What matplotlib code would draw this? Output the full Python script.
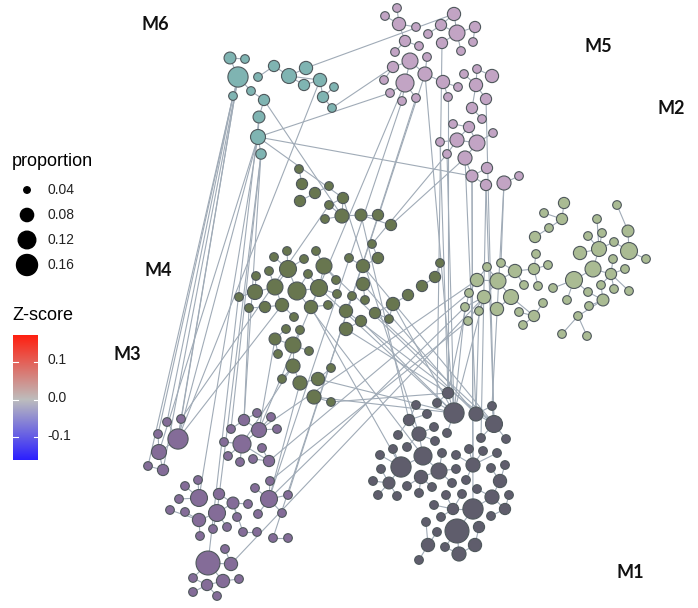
import numpy as np
import matplotlib
matplotlib.use("Agg")
import matplotlib.pyplot as plt
from matplotlib.collections import LineCollection
from matplotlib.colors import LinearSegmentedColormap

# node tables: (x, y, proportion) in layout units
m6 = [(238, 77, .15), (230, 58, .07), (245, 59, .05), (258, 77, .05), (251, 91, .05), (233, 96, .05),
      (274, 66, .065), (289, 76, .095), (306, 68, .08), (304, 85, .065), (320, 80, .08), (334, 87, .05),
      (323, 97, .065), (332, 108, .05), (264, 100, .065), (259, 117, .07), (258, 137, .095), (261, 154, .06)]

m5 = [(397, 8, .05), (385, 16, .05), (399, 24, .08), (416, 27, .05), (428, 34, .05), (454, 14, .08),
      (441, 25, .065), (457, 33, .104), (475, 27, .065), (473, 42, .05), (461, 51, .05), (442, 43, .065),
      (405, 41, .065), (419, 46, .05), (395, 52, .05), (410, 61, .104), (427, 57, .05), (393, 67, .065),
      (384, 80, .05), (405, 83, .125), (425, 74, .087), (390, 93, .05), (402, 101, .05), (416, 98, .05),
      (443, 82, .08), (458, 87, .05), (448, 97, .05), (464, 74, .05), (477, 69, .05), (492, 76, .08),
      (476, 85, .08), (486, 99, .065), (472, 108, .065), (482, 119, .05), (469, 127, .065), (453, 124, .05),
      (493, 133, .05), (457, 140, .087), (477, 143, .104), (440, 142, .05), (447, 154, .05), (465, 158, .087),
      (487, 168, .065), (472, 176, .07), (486, 185, .065), (504, 183, .087), (519, 176, .05)]

m2 = [(564, 203, .065), (544, 213, .05), (562, 219, .065), (549, 228, .05), (535, 237, .065), (536, 254, .05),
      (501, 263, .05), (487, 267, .05), (515, 271, .08), (534, 269, .065), (477, 280, .08), (498, 281, .104),
      (524, 285, .05), (538, 286, .05), (553, 288, .05), (469, 293, .05), (484, 297, .08), (511, 297, .095),
      (465, 307, .05), (479, 311, .05), (497, 309, .08), (543, 303, .05), (519, 312, .05), (534, 316, .065),
      (523, 325, .05), (468, 321, .05), (548, 265, .05), (574, 280, .114), (567, 300, .05), (578, 316, .05),
      (562, 334, .05), (587, 336, .05), (617, 205, .05), (597, 219, .05), (628, 231, .07), (588, 236, .05),
      (602, 233, .05), (580, 253, .08), (599, 249, .095), (614, 242, .05), (629, 251, .114), (646, 259, .05),
      (613, 259, .05), (593, 269, .104), (625, 269, .05), (611, 274, .065), (601, 285, .05), (588, 292, .05),
      (614, 289, .05), (629, 291, .05), (603, 300, .07), (589, 306, .05)]

m4 = [(299, 169, .05), (302, 184, .065), (300, 201, .065), (315, 193, .065), (329, 186, .05), (343, 198, .065),
      (329, 205, .05), (325, 219, .05), (342, 216, .087), (361, 215, .07), (378, 215, .065), (391, 225, .065),
      (372, 244, .05), (378, 258, .065), (349, 258, .05), (363, 266, .08), (363, 284, .08), (352, 296, .05),
      (365, 300, .05), (375, 313, .065), (389, 319, .05), (393, 304, .08), (408, 295, .065), (422, 286, .065),
      (435, 277, .065), (440, 263, .05), (287, 251, .05), (316, 251, .05), (274, 257, .05), (304, 259, .05),
      (288, 269, .114), (324, 266, .104), (269, 271, .05), (256, 276, .05), (308, 274, .05), (336, 280, .05),
      (275, 287, .104), (297, 291, .125), (319, 288, .114), (255, 292, .095), (239, 297, .05), (337, 294, .05),
      (249, 308, .05), (265, 307, .065), (282, 305, .08), (311, 307, .08), (328, 305, .05), (346, 311, .08),
      (361, 321, .065), (346, 329, .08), (294, 317, .05), (286, 329, .05), (300, 330, .05), (275, 339, .07),
      (293, 345, .104), (278, 354, .05), (309, 351, .05), (293, 366, .087), (282, 379, .05), (300, 383, .087),
      (318, 379, .08), (331, 368, .05), (314, 397, .087), (331, 402, .05)]

m1 = [(448, 393, .065), (416, 405, .05), (437, 403, .05), (454, 413, .15), (476, 414, .087), (492, 406, .05),
      (427, 414, .05), (494, 424, .114), (409, 420, .065), (434, 427, .05), (447, 433, .05), (419, 434, .087),
      (506, 439, .05), (481, 438, .05), (398, 435, .05), (435, 441, .05), (393, 449, .05), (407, 447, .05),
      (423, 456, .125), (442, 453, .05), (456, 455, .05), (469, 449, .05), (483, 451, .05), (497, 453, .05),
      (380, 455, .05), (401, 467, .15), (439, 471, .104), (456, 469, .05), (473, 465, .087), (491, 468, .05),
      (505, 465, .05), (381, 469, .05), (421, 477, .08), (466, 480, .05), (500, 481, .08), (373, 481, .05),
      (389, 483, .07), (407, 486, .05), (452, 483, .05), (477, 489, .05), (509, 495, .05), (378, 495, .05),
      (397, 496, .05), (419, 493, .05), (432, 487, .05), (446, 495, .05), (462, 494, .05), (492, 497, .087),
      (434, 505, .05), (453, 509, .065), (473, 509, .15), (505, 509, .065), (491, 516, .05), (441, 517, .05),
      (426, 522, .05), (479, 527, .065), (457, 531, .2), (437, 532, .05), (475, 545, .08), (428, 545, .08),
      (445, 547, .05), (459, 554, .087), (419, 560, .05)]

m3 = [(167, 422, .05), (181, 419, .05), (158, 434, .05), (178, 439, .15), (159, 452, .095), (148, 466, .05),
      (163, 470, .065), (257, 413, .05), (271, 417, .05), (244, 420, .065), (259, 430, .095), (277, 429, .05),
      (231, 429, .05), (242, 444, .125), (224, 442, .05), (262, 448, .05), (228, 456, .05), (240, 462, .05),
      (253, 459, .05), (269, 461, .065), (198, 480, .05), (185, 486, .05), (270, 481, .05), (255, 488, .05),
      (219, 494, .065), (199, 498, .114), (179, 499, .05), (233, 503, .07), (248, 504, .05), (269, 499, .114),
      (288, 495, .05), (170, 510, .05), (185, 512, .05), (217, 513, .114), (199, 520, .08), (258, 514, .05),
      (282, 513, .05), (237, 517, .05), (213, 529, .05), (227, 527, .05), (243, 532, .05), (257, 532, .05),
      (200, 536, .05), (273, 538, .05), (288, 538, .05), (225, 549, .05), (208, 563, .2), (231, 564, .08),
      (193, 578, .05), (207, 585, .065), (223, 581, .08), (239, 579, .05), (193, 592, .05), (217, 596, .05)]

modules = {"M6": m6, "M5": m5, "M2": m2, "M4": m4, "M1": m1, "M3": m3}
module_colors = {"M6": "#7fb4b2", "M5": "#c2a4c4", "M2": "#aabb93", "M4": "#68764f",
                 "M1": "#5f5d6c", "M3": "#846c98"}
module_labels = {"M6": (155, 25), "M5": (598, 47), "M2": (671, 108), "M4": (158, 270),
                 "M3": (127, 354), "M1": (630, 573)}

# links between modules: (module, node, module, node)
cross_links = [
    ("M6", 5, "M3", 0), ("M6", 5, "M3", 2), ("M6", 5, "M3", 5), ("M6", 0, "M3", 3), ("M6", 0, "M3", 1),
    ("M6", 0, "M3", 6), ("M6", 16, "M3", 3), ("M6", 16, "M3", 4), ("M6", 17, "M3", 9), ("M6", 17, "M3", 12),
    ("M6", 16, "M3", 25), ("M6", 17, "M3", 33), ("M6", 15, "M3", 46), ("M6", 10, "M3", 3),
    ("M6", 14, "M4", 8), ("M6", 16, "M4", 5), ("M6", 16, "M5", 21), ("M6", 16, "M5", 43),
    ("M6", 8, "M5", 5), ("M6", 13, "M5", 17),
    ("M5", 20, "M3", 43), ("M5", 23, "M3", 30), ("M5", 19, "M3", 10), ("M5", 22, "M3", 29),
    ("M5", 41, "M4", 11), ("M5", 40, "M4", 12),
    ("M5", 39, "M1", 0), ("M5", 40, "M1", 3), ("M5", 41, "M1", 4), ("M5", 43, "M1", 28),
    ("M5", 43, "M1", 50), ("M5", 44, "M1", 7), ("M5", 45, "M1", 5), ("M5", 44, "M1", 13),
    ("M5", 11, "M1", 2), ("M5", 26, "M1", 0), ("M5", 20, "M1", 3), ("M5", 31, "M1", 7),
    ("M5", 45, "M2", 6),
    ("M3", 10, "M2", 10), ("M3", 19, "M2", 15), ("M3", 29, "M2", 18), ("M3", 47, "M2", 16),
    ("M3", 22, "M2", 25),
    ("M4", 49, "M1", 0), ("M4", 48, "M1", 3), ("M4", 62, "M1", 3), ("M4", 63, "M1", 0),
    ("M4", 60, "M1", 3), ("M4", 15, "M1", 7), ("M4", 16, "M1", 4), ("M4", 21, "M1", 3),
    ("M4", 19, "M1", 7), ("M4", 38, "M1", 3), ("M4", 31, "M1", 4), ("M4", 47, "M1", 7),
    ("M4", 37, "M1", 18), ("M4", 45, "M1", 25), ("M4", 5, "M1", 11), ("M4", 9, "M1", 8),
    ("M3", 3, "M4", 44), ("M4", 42, "M3", 9), ("M4", 53, "M3", 10), ("M4", 57, "M3", 13),
    ("M4", 59, "M3", 29), ("M4", 6, "M3", 1),
    ("M2", 15, "M1", 0), ("M2", 16, "M1", 3), ("M2", 19, "M1", 4), ("M2", 18, "M1", 3),
]

legend_props = [0.04, 0.08, 0.12, 0.16]
zscore_ticks = [-0.1, 0.0, 0.1]
zscore_range = (-0.161, 0.172)

DPI = 100


def marker_area(p):
    # ggplot-style area scaling of proportion, converted to points^2
    d_px = np.sqrt(np.maximum(3325 * np.asarray(p) - 91, 4))
    return (d_px * 72 / DPI) ** 2


def tree_links(nodes):
    # each node hangs off the closest bigger neighbour (or its closest neighbour)
    xy = np.array([(n[0], n[1]) for n in nodes], float)
    p = np.array([n[2] for n in nodes])
    links = set()
    for i in range(len(nodes)):
        d = np.hypot(*(xy - xy[i]).T)
        d[i] = np.inf
        cand = np.where((p > p[i]) & (d < 32))[0]
        j = cand[np.argmin(d[cand])] if len(cand) else int(np.argmin(d))
        links.add(tuple(sorted((i, int(j)))))
    return [(xy[a], xy[b]) for a, b in links]


fig = plt.figure(figsize=(6.98, 6.08), dpi=DPI)
ax = fig.add_axes([0, 0, 1, 1])
ax.set_xlim(0, 698)
ax.set_ylim(608, 0)
ax.axis("off")

edge_col = "#a0abb7"
segs = []
for name, nodes in modules.items():
    segs += tree_links(nodes)
for ma, ia, mb, ib in cross_links:
    a, b = modules[ma][ia], modules[mb][ib]
    segs.append(((a[0], a[1]), (b[0], b[1])))
ax.add_collection(LineCollection(segs, colors=edge_col, linewidths=0.8, zorder=1))

for name, nodes in modules.items():
    arr = np.array(nodes)
    ax.scatter(arr[:, 0], arr[:, 1], s=marker_area(arr[:, 2]), c=module_colors[name],
               edgecolors="#4f585c", linewidths=0.8, zorder=2)
    lx, ly = module_labels[name]
    ax.text(lx, ly, name, fontsize=13, fontweight="bold", family="Lato",
            ha="center", va="center", color="#111111")

# size legend
ax.text(12, 162, "proportion", fontsize=13, family="Liberation Sans", va="center")
leg_y = [190, 215, 240, 265]
ax.scatter([27] * 4, leg_y, s=marker_area(legend_props), c="black", zorder=3)
for v, y in zip(legend_props, leg_y):
    ax.text(47, y, f"{v:.2f}", fontsize=10, family="Liberation Sans", va="center", color="#222222")

# Z-score colour bar
ax.text(12, 315, "Z-score", fontsize=13, family="Liberation Sans", va="center")
zmin, zmax = zscore_range
mid = (0 - zmin) / (zmax - zmin)
cmap = LinearSegmentedColormap.from_list("zs", [(0, "#2b1fff"), (mid, "#bdbdbd"), (1, "#ff1f10")])
cax = fig.add_axes([13 / 698, 1 - 460 / 608, 25 / 698, 125 / 608])
grad = np.linspace(zmin, zmax, 256).reshape(-1, 1)
cax.imshow(grad, aspect="auto", origin="lower", cmap=cmap, extent=[0, 1, zmin, zmax])
cax.set_xlim(0, 1)
cax.set_ylim(zmin, zmax)
cax.axis("off")
for t in zscore_ticks:
    cax.plot([0, 0.18], [t, t], color="white", lw=0.8)
    cax.plot([0.82, 1], [t, t], color="white", lw=0.8)
    ax.text(47, 398 - t * 375, f"{t:.1f}", fontsize=10, family="Liberation Sans",
            va="center", color="#222222")

fig.savefig("out.png", dpi=DPI)
